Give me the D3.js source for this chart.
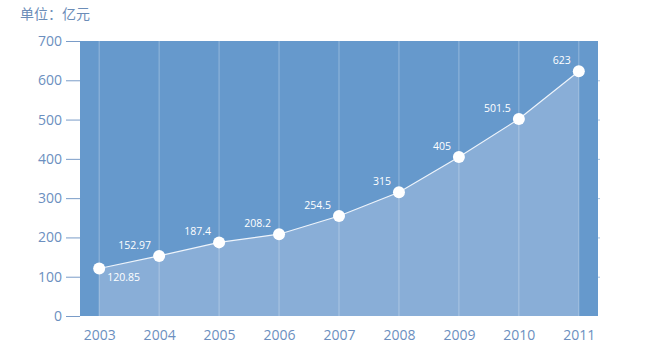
<!DOCTYPE html>
<html>
<head>
<meta charset="utf-8">
<script src="https://cdn.jsdelivr.net/npm/d3@7"></script>
<style>
body { margin: 0; background: #fff; }
text { font-family: "Open Sans", "Noto Sans CJK SC", sans-serif; }
</style>
</head>
<body>
<script>
var years = ["2003", "2004", "2005", "2006", "2007", "2008", "2009", "2010", "2011"];
var values = [120.85, 152.97, 187.4, 208.2, 254.5, 315, 405, 501.5, 623];
var labels = ["120.85", "152.97", "187.4", "208.2", "254.5", "315", "405", "501.5", "623"];
var yTicks = [0, 100, 200, 300, 400, 500, 600, 700];

var margin = {top: 41, right: 61, bottom: 35, left: 80},
	width = 659 - margin.left - margin.right,
	height = 351 - margin.top - margin.bottom;

var data = years.map(function(y, i) { return {year: y, value: values[i], label: labels[i]}; });

var x = d3.scalePoint()
	.domain(years)
	.range([0, width])
	.padding(0.32);

var y = d3.scaleLinear()
	.domain([0, 700])
	.range([height, 0]);

var chart = d3.select('body')
	.append('svg')
	.attr('width', 659)
	.attr('height', 351);

// unit caption
chart.append('text')
	.attr('x', 20)
	.attr('y', 19)
	.attr('font-size', 14)
	.attr('fill', '#6c8db8')
	.text('单位：亿元');

var main = chart.append('g')
	.attr('transform', 'translate(' + margin.left + ',' + margin.top + ')');

// plot background
main.append('rect')
	.attr('width', width)
	.attr('height', height)
	.attr('fill', '#6699cc');

// area under the line
var area = d3.area()
	.x(function(d) { return x(d.year); })
	.y0(height)
	.y1(function(d) { return y(d.value); });

main.append('path')
	.datum(data)
	.attr('d', area)
	.attr('fill', '#89aed7');

// vertical grid lines
main.selectAll('.grid')
	.data(years)
	.enter().append('line')
		.attr('x1', function(d) { return x(d); })
		.attr('x2', function(d) { return x(d); })
		.attr('y1', 0)
		.attr('y2', height)
		.attr('stroke', '#ffffff')
		.attr('stroke-opacity', 0.3)
		.attr('stroke-width', 1);

// right side small ticks
main.selectAll('.rtick')
	.data(yTicks.slice(1, -1))
	.enter().append('line')
		.attr('x1', width)
		.attr('x2', width + 2)
		.attr('y1', function(d) { return y(d) + 0.5; })
		.attr('y2', function(d) { return y(d) + 0.5; })
		.attr('stroke', '#a9c2e0');

// y axis
var yAxis = d3.axisLeft(y)
	.tickValues(yTicks)
	.tickSize(14)
	.tickPadding(4);

var yg = main.append('g')
	.call(yAxis);
yg.select('.domain').remove();
yg.selectAll('line').attr('stroke', '#7a9cc8');
yg.selectAll('text')
	.attr('fill', '#6c8fc0')
	.attr('font-size', 14);

// x axis
var xAxis = d3.axisBottom(x)
	.tickSize(0)
	.tickPadding(14);

var xg = main.append('g')
	.attr('transform', 'translate(0,' + height + ')')
	.call(xAxis);
xg.select('.domain').remove();
xg.selectAll('text')
	.attr('fill', '#6c8fc0')
	.attr('font-size', 14);

// line
var line = d3.line()
	.x(function(d) { return x(d.year); })
	.y(function(d) { return y(d.value); });

main.append('path')
	.datum(data)
	.attr('d', line)
	.attr('fill', 'none')
	.attr('stroke', '#eef4fb')
	.attr('stroke-width', 1.2);

// points
main.selectAll('.dot')
	.data(data)
	.enter().append('circle')
		.attr('cx', function(d) { return x(d.year); })
		.attr('cy', function(d) { return y(d.value); })
		.attr('r', 6)
		.attr('fill', '#ffffff');

// value labels
main.selectAll('.lbl')
	.data(data)
	.enter().append('text')
		.attr('x', function(d, i) { return x(d.year) + (i == 0 ? 8 : -8); })
		.attr('y', function(d, i) { return y(d.value) + (i == 0 ? 12 : -7); })
		.attr('text-anchor', function(d, i) { return i == 0 ? 'start' : 'end'; })
		.attr('font-size', 10.5)
		.attr('fill', '#ffffff')
		.text(function(d) { return d.label; });
</script>
</body>
</html>
